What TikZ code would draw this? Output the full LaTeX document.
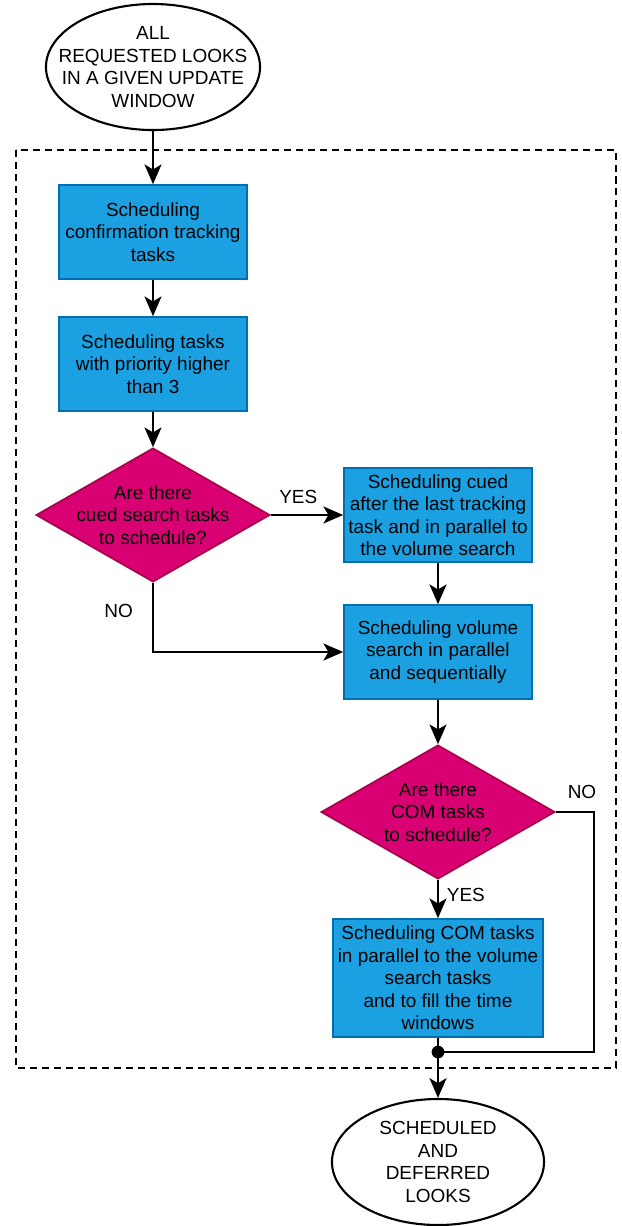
\documentclass[tikz,border=0pt]{standalone}
\usepackage{fontspec}
\setmainfont{Liberation Sans}
\usetikzlibrary{shapes.geometric,arrows.meta}
\definecolor{taskblue}{HTML}{1BA1E2}
\definecolor{taskedge}{HTML}{006EAF}
\definecolor{askpink}{HTML}{D80073}
\definecolor{askedge}{HTML}{A50040}
\begin{document}
\begin{tikzpicture}[x=0.025cm, y=-0.025cm, line width=2pt,
    >={Stealth[length=14pt,width=12pt,inset=3.5pt]},
    every node/.style={font=\fontsize{13.5}{16}\selectfont, align=center},
    terminal/.style={ellipse, draw=black, fill=white, line width=1.5pt, minimum width=5.35cm, minimum height=3.15cm, inner sep=0pt},
    taskbox/.style={rectangle, draw=taskedge, fill=taskblue, line width=1.1pt, minimum width=4.7cm, minimum height=2.35cm, inner sep=2pt},
    decision/.style={diamond, draw=askedge, fill=askpink, line width=1.1pt, minimum width=5.85cm, minimum height=3.35cm, inner sep=0pt}]
    \useasboundingbox (0,0) rectangle (622,1226);

    % update window frame
    \draw[dashed, line width=1.4pt, dash pattern=on 5pt off 3.5pt] (16,150) rectangle (616,1068);

    % nodes
    \node[terminal, label=center:{ALL\\REQUESTED LOOKS\\IN A GIVEN UPDATE\\WINDOW}] (start) at (153,67) {};
    \node[taskbox] (conf) at (153,232) {Scheduling\\confirmation tracking\\tasks};
    \node[taskbox] (prio) at (153,364) {Scheduling tasks\\with priority higher\\than 3};
    \node[decision, label=center:{Are there\\cued search tasks\\to schedule?}] (cued) at (153,515) {};
    \node[taskbox] (cuedtask) at (438,515) {Scheduling cued\\after the last tracking\\task and in parallel to\\the volume search};
    \node[taskbox] (volume) at (438,652) {Scheduling volume\\search in parallel\\and sequentially};
    \node[decision, label=center:{Are there\\COM tasks\\to schedule?}] (com) at (438,812) {};
    \node[taskbox, minimum width=5.25cm, minimum height=2.95cm] (comtask) at (438,978) {Scheduling COM tasks\\in parallel to the volume\\search tasks\\and to fill the time\\windows};
    \node[circle, fill=black, inner sep=3.2pt] (join) at (438,1052) {};
    \coordinate (nocorner) at (594,1052);
    \node[terminal, minimum width=5.3cm, label=center:{SCHEDULED\\AND\\DEFERRED\\LOOKS}] (stop) at (438,1162) {};

    % connectors
    \draw[->] (start) -- (conf);
    \draw[->] (conf) -- (prio);
    \draw[->] (prio) -- (cued);
    \draw[->] (cued) -- node[above=4pt, pos=0.38] {YES} (cuedtask);
    \draw[->] (cuedtask) -- (volume);
    \draw[->] (cued.south) |- (volume.west) node[pos=0.2, left=10pt] {NO};
    \draw[->] (volume) -- (com);
    \draw[->] (com) -- node[right=2pt, pos=0.4] {YES} (comtask);
    \draw (comtask) -- (join.center);
    \draw (com.east) -| (nocorner) -- (join.center);
    \node at (582,792) {NO};
    \draw[->] (join.center) -- (stop);
\end{tikzpicture}
\end{document}
